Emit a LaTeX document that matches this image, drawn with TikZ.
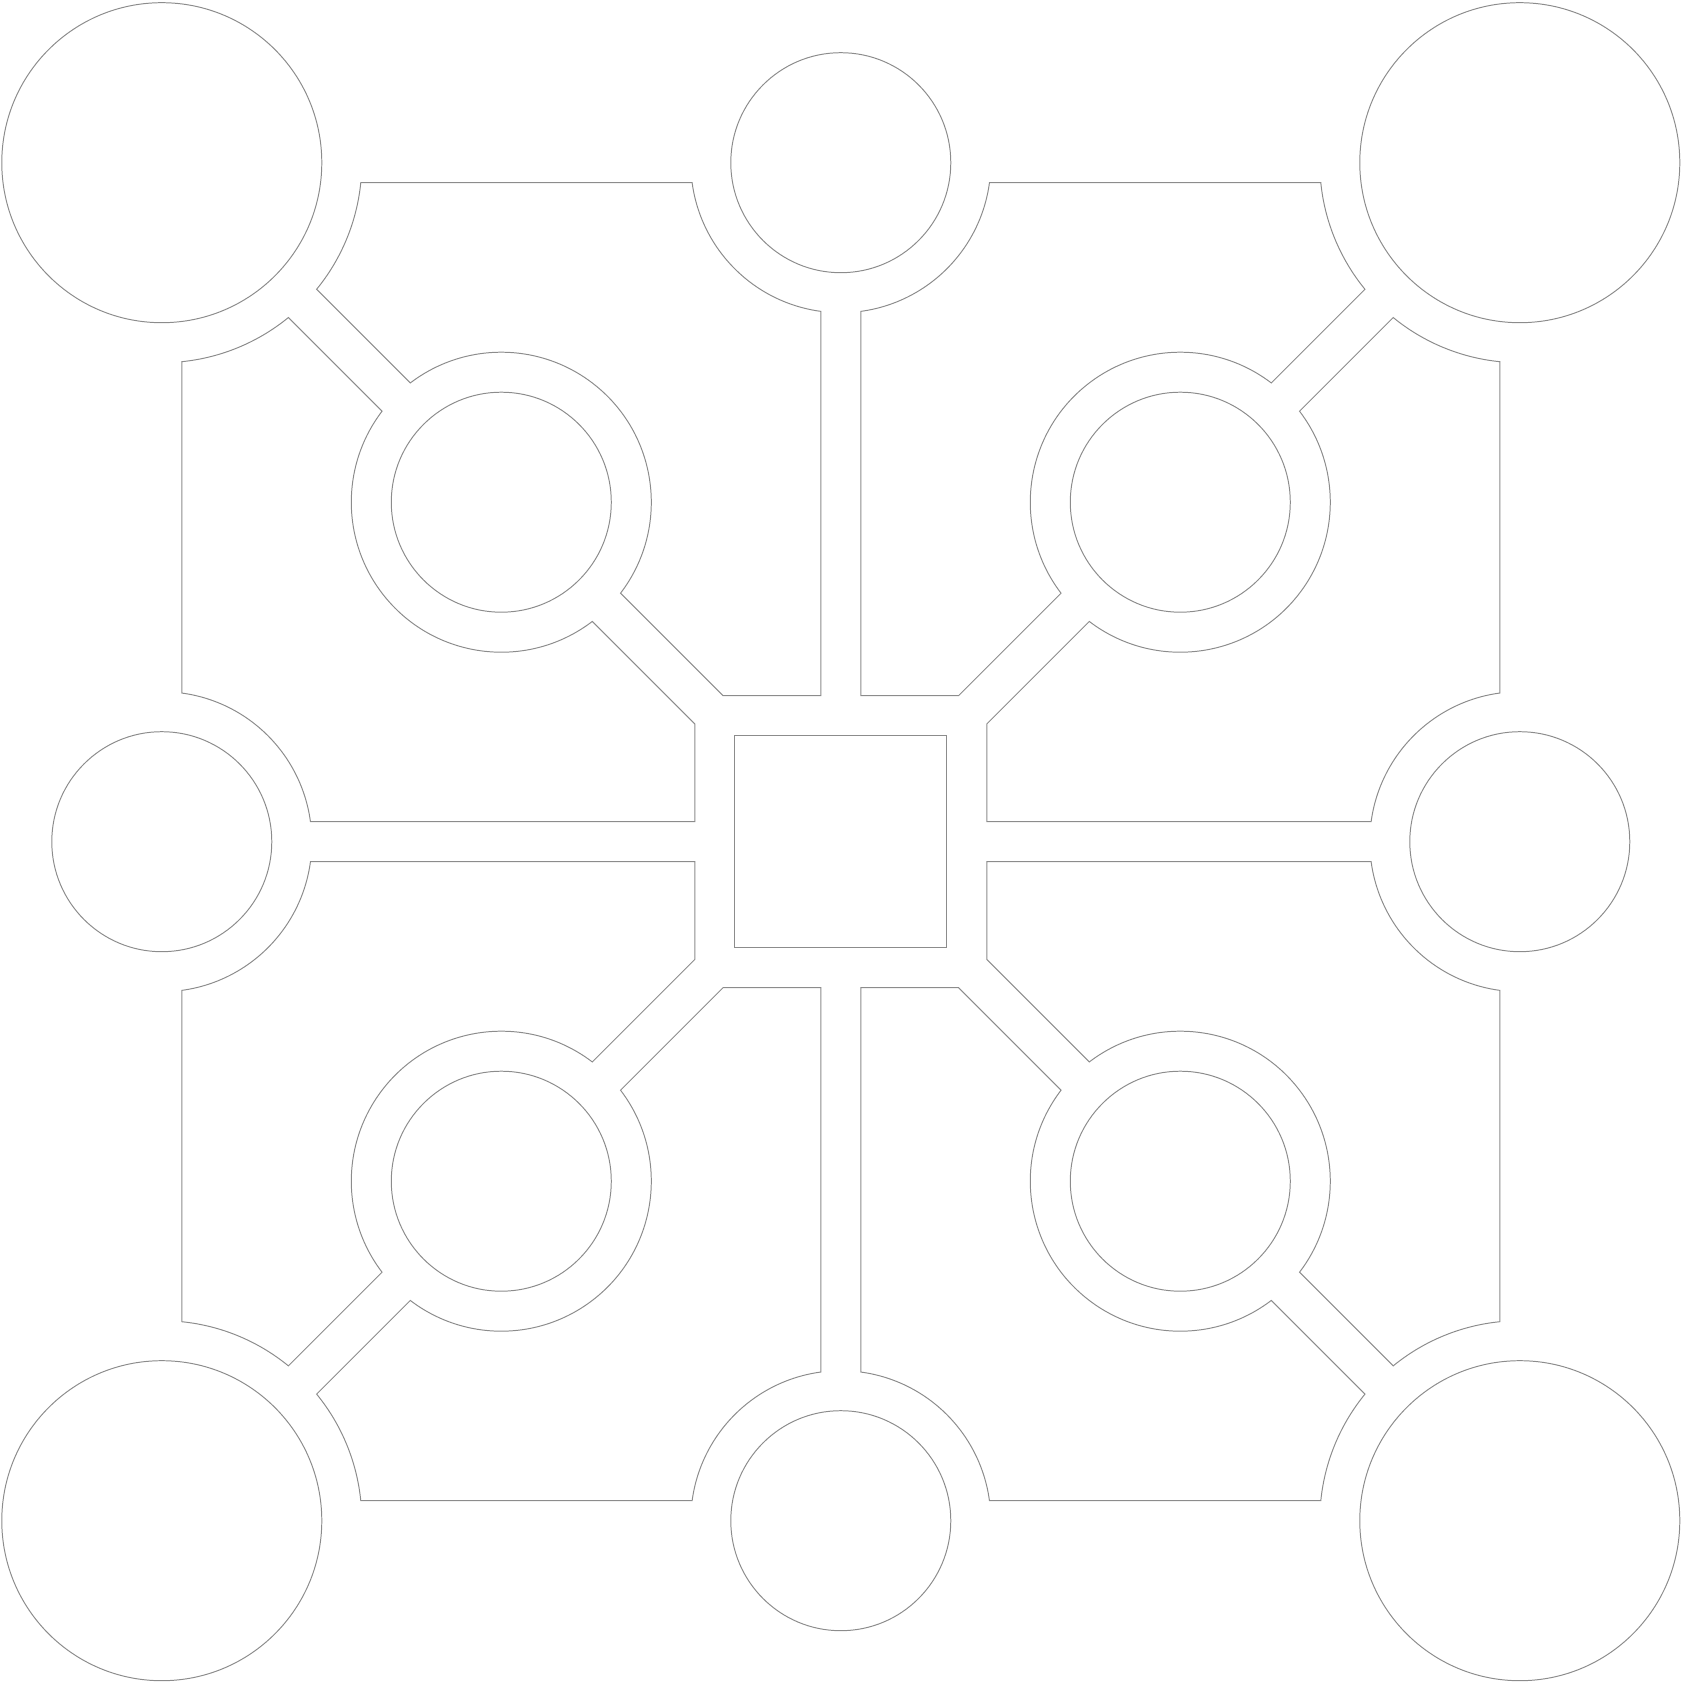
\documentclass[tikz,border=0pt]{standalone}
\begin{document}
\begin{tikzpicture}[
  outl/.style={draw=black!45, line width=0.28pt, line join=miter}]
\useasboundingbox (-8.408,-8.433) rectangle (8.432,8.417);
% four quadrants
\foreach \sx/\sy in {1/1,-1/1,1/-1,-1/-1}{
  \begin{scope}[xscale=\sx, yscale=\sy]
    % piece next to the vertical gap
    \draw[outl] (0.20,1.46) -- (1.1772,1.46) -- (2.2024,2.4852)
      arc[start angle=217.34, end angle=52.66, radius=1.50]
      -- (5.2415,5.5243)
      arc[start angle=219.26, end angle=185.74, radius=2.00]
      -- (1.4866,6.59)
      arc[start angle=-7.66, end angle=-82.34, radius=1.50]
      -- cycle;
    % piece next to the horizontal gap
    \draw[outl] (1.46,0.20) -- (1.46,1.1772) -- (2.4852,2.2024)
      arc[start angle=-127.34, end angle=37.34, radius=1.50]
      -- (5.5243,5.2415)
      arc[start angle=-129.26, end angle=-95.74, radius=2.00]
      -- (6.59,1.4866)
      arc[start angle=97.66, end angle=172.34, radius=1.50]
      -- cycle;
    % inner circle of the quadrant
    \draw[outl] (3.395,3.395) circle[radius=1.10];
    % corner circle
    \draw[outl] (6.79,6.79) circle[radius=1.60];
  \end{scope}
}
% middle circles on the sides
\draw[outl] (0,6.79) circle[radius=1.10];
\draw[outl] (0,-6.79) circle[radius=1.10];
\draw[outl] (6.79,0) circle[radius=1.10];
\draw[outl] (-6.79,0) circle[radius=1.10];
% central square
\draw[outl] (-1.06,-1.06) rectangle (1.06,1.06);
\end{tikzpicture}
\end{document}
